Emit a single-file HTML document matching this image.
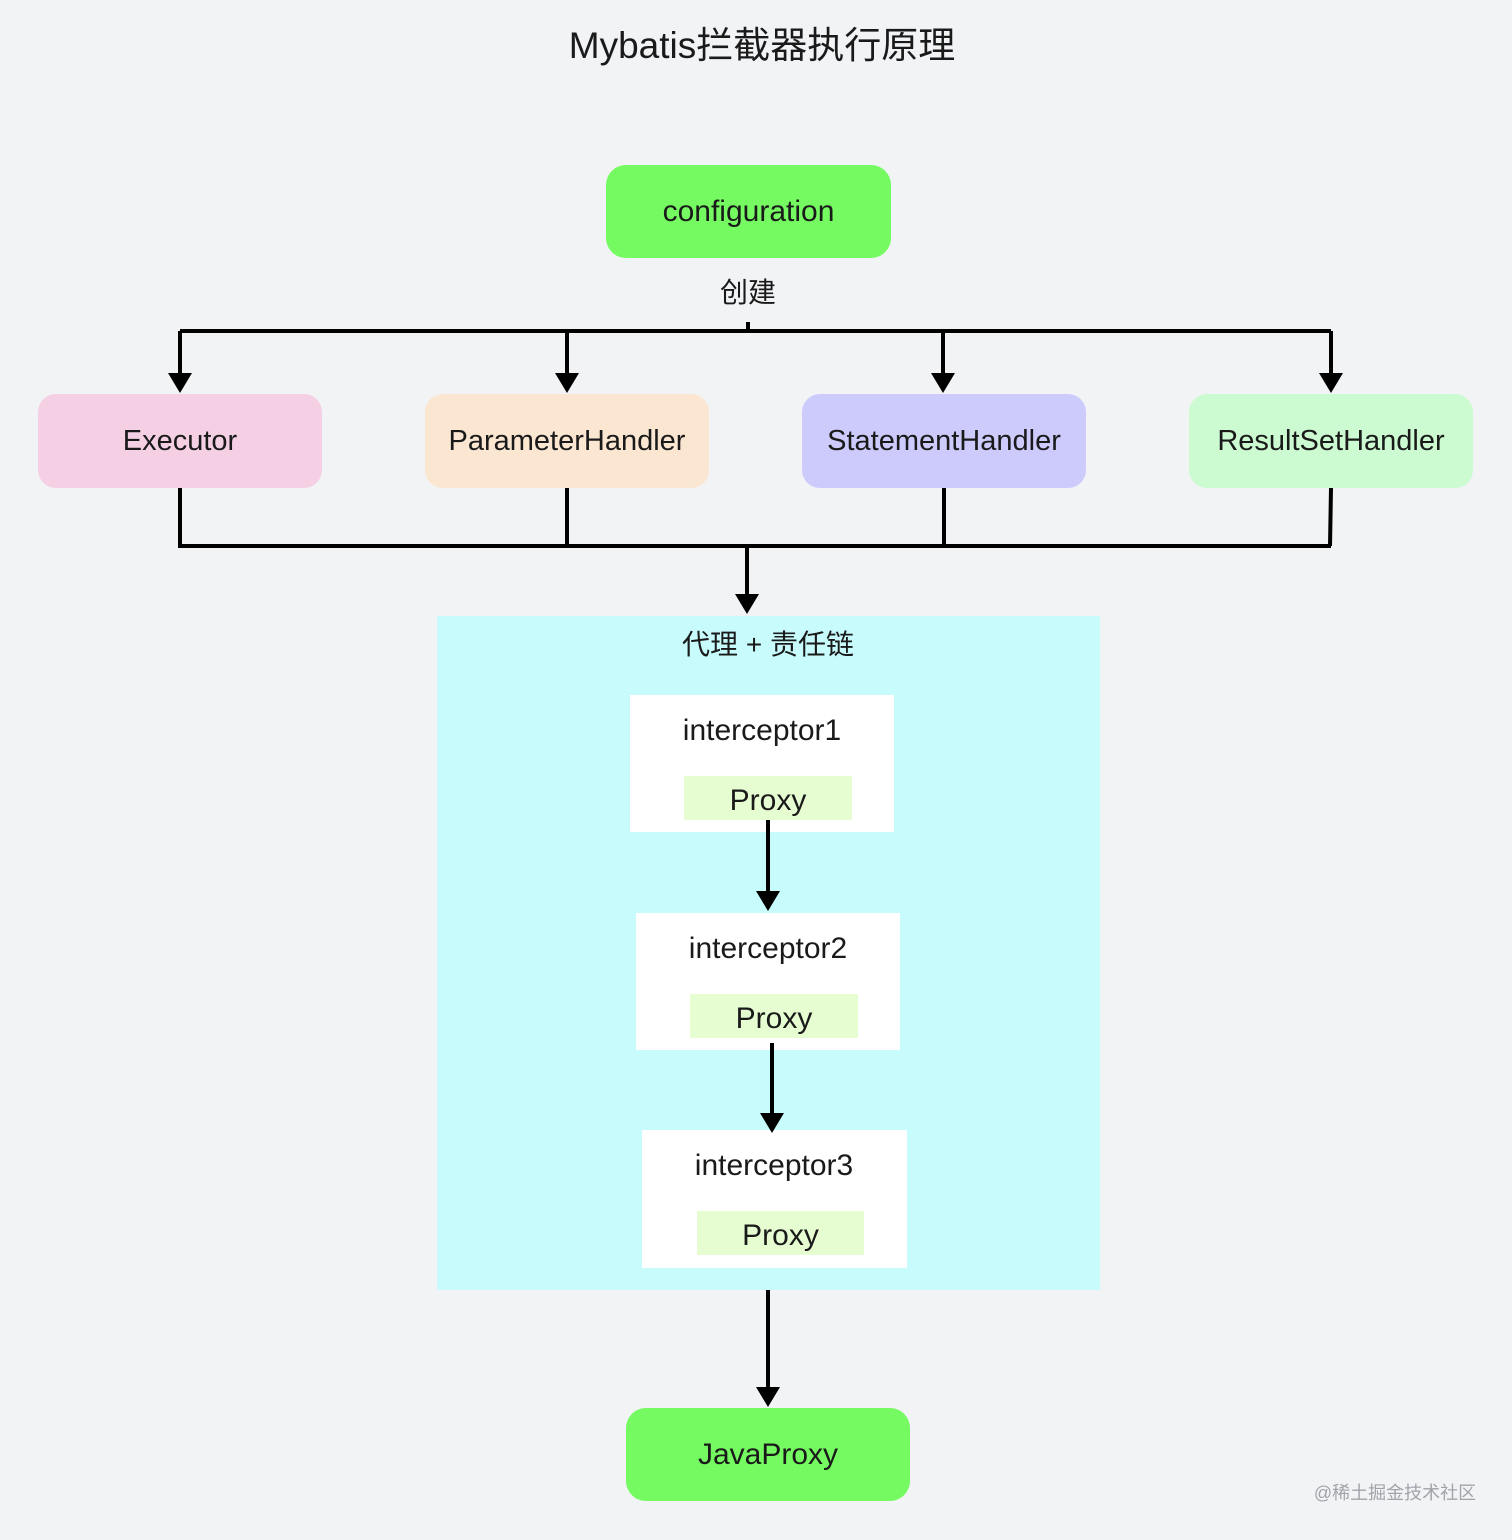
<!DOCTYPE html>
<html><head><meta charset="utf-8"><style>
html,body{margin:0;padding:0}
body{width:1512px;height:1540px;background:#f2f3f5;position:relative;overflow:hidden;font-family:"Liberation Sans","Noto Sans CJK SC",sans-serif;color:#1a1a1a}
.a{position:absolute;display:flex;align-items:center;justify-content:center;box-sizing:border-box}
.t{position:absolute;white-space:nowrap;transform:translate(-50%,-50%)}
</style></head><body>
<div class="t" style="left:762px;top:42px;font-size:37px">Mybatis拦截器执行原理</div>
<div class="a" style="left:606px;top:165px;width:285px;height:93px;background:#75fb61;border-radius:20px;font-size:30px">configuration</div>
<div class="a" style="left:38px;top:394px;width:284px;height:94px;background:#f5d0e4;border-radius:18px;font-size:29px">Executor</div>
<div class="a" style="left:425px;top:394px;width:284px;height:94px;background:#fbe6d2;border-radius:18px;font-size:29px">ParameterHandler</div>
<div class="a" style="left:802px;top:394px;width:284px;height:94px;background:#cccbfb;border-radius:18px;font-size:29px">StatementHandler</div>
<div class="a" style="left:1189px;top:394px;width:284px;height:94px;background:#ccfbd2;border-radius:18px;font-size:29px">ResultSetHandler</div>
<div class="a" style="left:437px;top:616px;width:663px;height:674px;background:#c8fcfc"></div>
<div class="t" style="left:768px;top:643px;font-size:28px">代理 + 责任链</div>

<div class="a" style="left:630px;top:695px;width:264px;height:137px;background:#fff"></div>
<div class="t" style="left:762px;top:731px;font-size:30px">interceptor1</div>
<div class="a" style="left:684px;top:776px;width:168px;height:44px;background:#e6fdd2;font-size:30px;padding-top:6px">Proxy</div>

<div class="a" style="left:636px;top:913px;width:264px;height:137px;background:#fff"></div>
<div class="t" style="left:768px;top:949px;font-size:30px">interceptor2</div>
<div class="a" style="left:690px;top:994px;width:168px;height:44px;background:#e6fdd2;font-size:30px;padding-top:6px">Proxy</div>

<div class="a" style="left:642px;top:1130px;width:265px;height:138px;background:#fff"></div>
<div class="t" style="left:774px;top:1166px;font-size:30px">interceptor3</div>
<div class="a" style="left:697px;top:1211px;width:167px;height:44px;background:#e6fdd2;font-size:30px;padding-top:6px">Proxy</div>

<div class="a" style="left:626px;top:1408px;width:284px;height:93px;background:#75fb61;border-radius:20px;font-size:30px">JavaProxy</div>
<div class="t" style="left:748px;top:291px;font-size:28px">创建</div>
<div class="t" style="left:1395px;top:1492px;font-size:18px;color:#a0a4aa">@稀土掘金技术社区</div>

<svg width="1512" height="1540" style="position:absolute;left:0;top:0">
<defs><marker id="m" markerWidth="8" markerHeight="8" refX="4" refY="4" orient="auto" markerUnits="userSpaceOnUse" viewBox="0 0 8 8"></marker></defs>
<g stroke="#000" stroke-width="4" fill="none">
<line x1="748" y1="322" x2="748" y2="331"/>
<line x1="180" y1="331" x2="1331" y2="331"/>
<line x1="180" y1="331" x2="180" y2="376"/>
<line x1="567" y1="331" x2="567" y2="376"/>
<line x1="943" y1="331" x2="943" y2="376"/>
<line x1="1331" y1="331" x2="1331" y2="376"/>
<line x1="180" y1="488" x2="180" y2="548"/>
<line x1="567" y1="488" x2="567" y2="546"/>
<line x1="944" y1="488" x2="944" y2="546"/>
<line x1="1331" y1="488" x2="1330" y2="546"/>
<line x1="180" y1="546" x2="1331" y2="546"/>
<line x1="747" y1="546" x2="747" y2="597"/>
<line x1="768" y1="820" x2="768" y2="894"/>
<line x1="772" y1="1043" x2="772" y2="1116"/>
<line x1="768" y1="1290" x2="768" y2="1390"/>
</g>
<g fill="#000">
<polygon points="168,373 192,373 180,393"/>
<polygon points="555,373 579,373 567,393"/>
<polygon points="931,373 955,373 943,393"/>
<polygon points="1319,373 1343,373 1331,393"/>
<polygon points="735,594 759,594 747,614"/>
<polygon points="756,891 780,891 768,911"/>
<polygon points="760,1113 784,1113 772,1133"/>
<polygon points="756,1387 780,1387 768,1407"/>
</g>
</svg>
</body></html>
